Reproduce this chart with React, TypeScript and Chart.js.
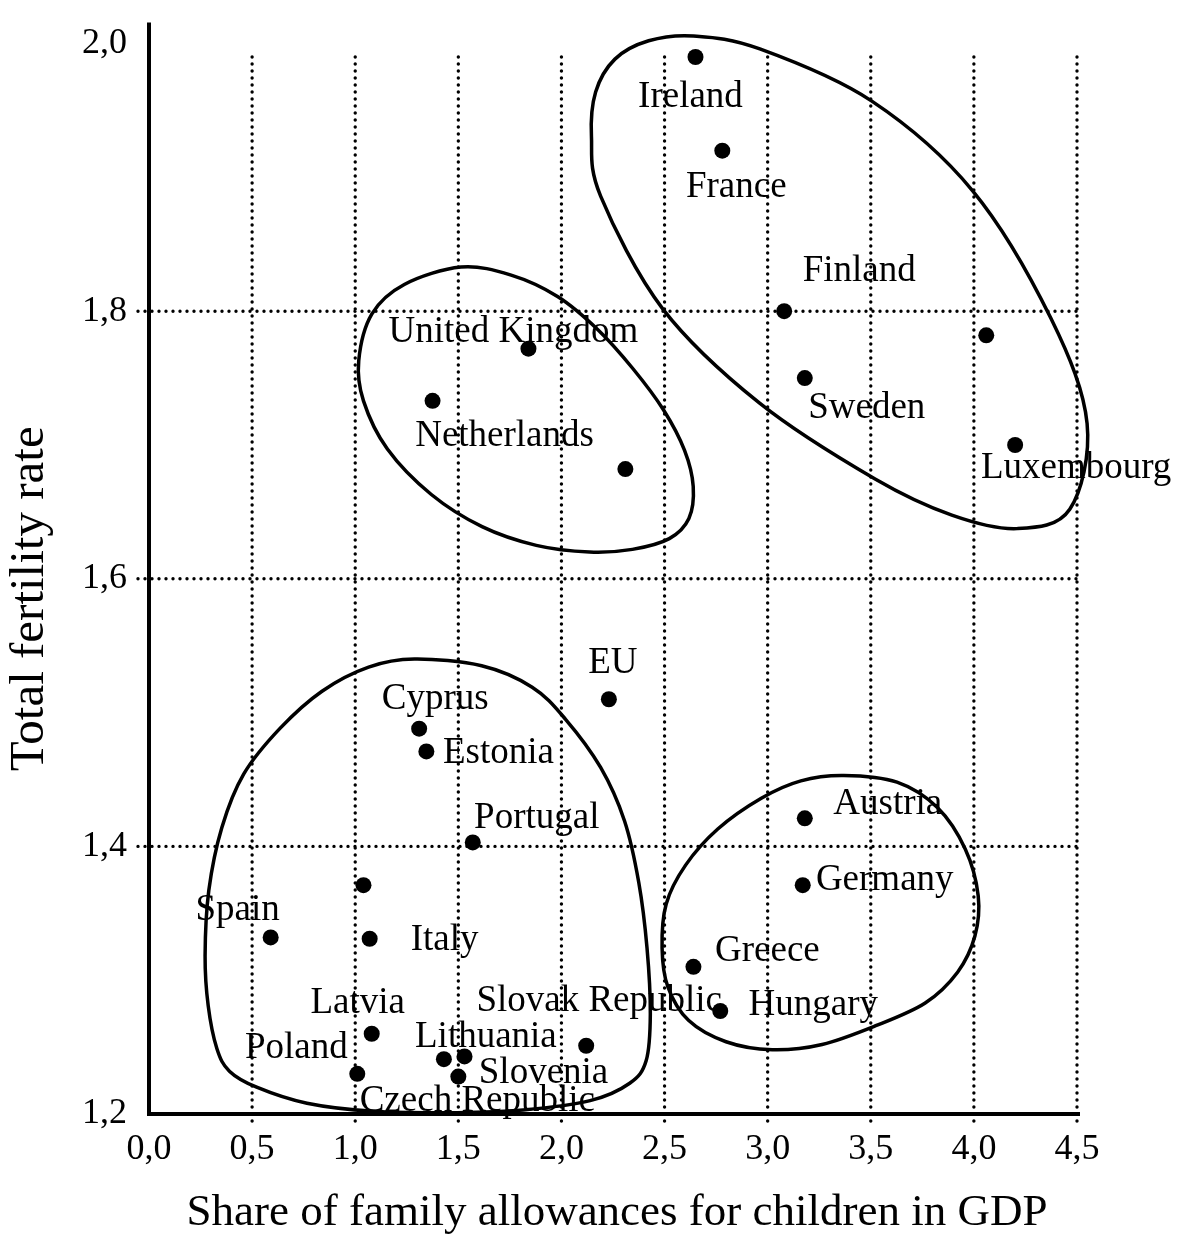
import { useEffect, useRef } from 'react';
import { Chart, registerables } from 'chart.js';

Chart.register(...registerables);

const FONT = '"Liberation Serif", "Times New Roman", Times, serif';

// ---- data ----
const countries = [
  'Ireland', 'France', 'Finland', 'Sweden', '', 'Luxembourg',
  'United Kingdom', 'Netherlands', '', 'EU', 'Cyprus', 'Estonia',
  'Portugal', '', 'Spain', 'Italy', 'Latvia', 'Poland', 'Lithuania',
  'Slovenia', 'Czech Republic', 'Slovak Republic', 'Austria', 'Germany',
  'Greece', 'Hungary',
];
const allowanceShare = [
  2.65, 2.78, 3.08, 3.18, 4.06, 4.2,
  1.84, 1.375, 2.31, 2.23, 1.31, 1.345,
  1.57, 1.04, 0.59, 1.07, 1.08, 1.01, 1.43,
  1.53, 1.5, 2.12, 3.18, 3.17,
  2.64, 2.77,
];
const fertilityRate = [
  1.99, 1.92, 1.8, 1.75, 1.782, 1.7,
  1.772, 1.733, 1.682, 1.51, 1.488, 1.471,
  1.403, 1.371, 1.332, 1.331, 1.26, 1.23, 1.241,
  1.243, 1.228, 1.251, 1.421, 1.371,
  1.31, 1.277,
];
// label placement relative to each point (px)
const labelDx = [-5, 14, 75, 62, 0, 61, -15, 72, 0, 4, 16, 72, 64, 0, -33, 75, -14, -61, 42, 79, 19, 13, 83, 82, 74, 93];
const labelDy = [40, 37, -40, 30, 0, 23, -16, 35, 0, -36, -29, 2, -24, 0, -27, 2, -30, -26, -22, 17, 25, -44, -14, -5, -16, -6];

const xGridValues = [0.5, 1, 1.5, 2, 2.5, 3, 3.5, 4, 4.5];
const yGridValues = [1.4, 1.6, 1.8];

const xAxisTitle = 'Share of family allowances for children in GDP';
const yAxisTitle = 'Total fertility rate';

// cluster outlines (data coordinates)
const groupNorthX = [2.6405, 2.962, 3.505, 3.994, 4.374, 4.549, 4.465, 4.21, 3.893, 3.521, 2.961, 2.492, 2.19, 2.1455, 2.1658, 2.2594, 2.4228];
const groupNorthY = [2.0057, 1.996, 1.957, 1.89, 1.7945, 1.716, 1.652, 1.6375, 1.6476, 1.6746, 1.7313, 1.8016, 1.886, 1.9305, 1.9638, 1.9884, 2.0021];

const groupWestX = [1.513, 1.756, 1.981, 2.178, 2.347, 2.496, 2.597, 2.639, 2.618, 2.523, 2.344, 2.136, 1.878, 1.615, 1.369, 1.156, 1.04, 1.017, 1.081, 1.238];
const groupWestY = [1.833, 1.827, 1.811, 1.786, 1.757, 1.726, 1.696, 1.669, 1.645, 1.63, 1.622, 1.62, 1.625, 1.639, 1.663, 1.697, 1.733, 1.763, 1.798, 1.82];

const groupEastX = [1.287, 1.613, 1.858, 2.02, 2.19, 2.306, 2.375, 2.415, 2.431, 2.411, 2.331, 2.139, 1.814, 1.495, 1.087, 0.766, 0.522, 0.39, 0.329, 0.287, 0.272, 0.29, 0.353, 0.459, 0.634, 0.839, 1.065];
const groupEastY = [1.54, 1.535, 1.519, 1.495, 1.459, 1.419, 1.373, 1.324, 1.275, 1.24, 1.223, 1.21, 1.203, 1.201, 1.202, 1.208, 1.22, 1.232, 1.249, 1.281, 1.318, 1.367, 1.414, 1.454, 1.488, 1.516, 1.534];

const groupCentralX = [3.369, 3.627, 3.823, 3.958, 4.021, 4.005, 3.921, 3.764, 3.524, 3.264, 3.022, 2.798, 2.616, 2.516, 2.488, 2.508, 2.602, 2.758, 2.969, 3.161];
const groupCentralY = [1.453, 1.448, 1.429, 1.398, 1.363, 1.333, 1.306, 1.283, 1.266, 1.252, 1.248, 1.254, 1.27, 1.295, 1.324, 1.357, 1.386, 1.413, 1.436, 1.449];

const outlines = [
  [groupNorthX, groupNorthY],
  [groupWestX, groupWestY],
  [groupEastX, groupEastY],
  [groupCentralX, groupCentralY],
];

const fmt = (v: number) => Number(v).toFixed(1).replace('.', ',');

function closedSpline(ctx: CanvasRenderingContext2D, pts: { x: number; y: number }[]) {
  const n = pts.length;
  ctx.beginPath();
  ctx.moveTo(pts[0].x, pts[0].y);
  for (let i = 0; i < n; i++) {
    const p0 = pts[(i - 1 + n) % n];
    const p1 = pts[i];
    const p2 = pts[(i + 1) % n];
    const p3 = pts[(i + 2) % n];
    const c1x = p1.x + (p2.x - p0.x) / 6;
    const c1y = p1.y + (p2.y - p0.y) / 6;
    const c2x = p2.x - (p3.x - p1.x) / 6;
    const c2y = p2.y - (p3.y - p1.y) / 6;
    ctx.bezierCurveTo(c1x, c1y, c2x, c2y, p2.x, p2.y);
  }
  ctx.closePath();
}

const figurePlugin = {
  id: 'figure',
  beforeDatasetsDraw(chart: any) {
    const { ctx, chartArea: a, scales } = chart;
    const x = scales.x;
    const y = scales.y;
    ctx.save();
    ctx.strokeStyle = '#000';
    ctx.lineWidth = 3.4;
    ctx.lineCap = 'round';
    ctx.setLineDash([0, 7]);
    ctx.beginPath();
    for (const v of xGridValues) {
      const px = x.getPixelForValue(v);
      ctx.moveTo(px, y.getPixelForValue(1.99));
      ctx.lineTo(px, a.bottom + 13);
    }
    for (const v of yGridValues) {
      const py = y.getPixelForValue(v);
      ctx.moveTo(a.left - 11, py);
      ctx.lineTo(x.getPixelForValue(4.5) + 3, py);
    }
    ctx.stroke();
    ctx.setLineDash([]);
    ctx.lineCap = 'butt';
    ctx.lineWidth = 4;
    ctx.beginPath();
    ctx.moveTo(a.left, a.top - 21);
    ctx.lineTo(a.left, a.bottom);
    ctx.lineTo(a.right + 3, a.bottom);
    ctx.stroke();
    ctx.restore();
  },
  afterDatasetsDraw(chart: any) {
    const { ctx, chartArea: a, scales } = chart;
    const x = scales.x;
    const y = scales.y;
    ctx.save();
    ctx.strokeStyle = '#000';
    ctx.lineWidth = 3.5;
    ctx.lineJoin = 'round';
    for (const [xs, ys] of outlines) {
      const pts = xs.map((v: number, i: number) => ({ x: x.getPixelForValue(v), y: y.getPixelForValue(ys[i]) }));
      closedSpline(ctx, pts);
      ctx.stroke();
    }
    ctx.fillStyle = '#000';
    ctx.font = `37px ${FONT}`;
    ctx.textAlign = 'center';
    ctx.textBaseline = 'middle';
    countries.forEach((name, i) => {
      if (!name) return;
      const px = x.getPixelForValue(allowanceShare[i]) + labelDx[i];
      const py = y.getPixelForValue(fertilityRate[i]) + labelDy[i];
      ctx.fillText(name, px, py);
    });
    ctx.font = `45px ${FONT}`;
    ctx.fillText(xAxisTitle, (a.left + a.right) / 2 + 4, a.bottom + 99);
    ctx.save();
    ctx.translate(a.left - 119, (a.top + a.bottom) / 2 + 20);
    ctx.rotate(-Math.PI / 2);
    ctx.font = `49px ${FONT}`;
    ctx.fillText(yAxisTitle, 0, 0);
    ctx.restore();
    ctx.restore();
  },
};

export default function App() {
  const ref = useRef<HTMLCanvasElement>(null);
  useEffect(() => {
    if (!ref.current) return;
    const chart = new Chart(ref.current, {
      type: 'scatter',
      data: {
        datasets: [
          {
            data: allowanceShare.map((v, i) => ({ x: v, y: fertilityRate[i] })),
            backgroundColor: '#000',
            borderColor: '#000',
            borderWidth: 0,
            pointRadius: 8,
            pointHoverRadius: 8,
          },
        ],
      },
      options: {
        animation: false,
        responsive: false,
        devicePixelRatio: 1,
        layout: { padding: { top: 30, right: 100, left: 0, bottom: 0 } },
        plugins: { legend: { display: false }, tooltip: { enabled: false } },
        scales: {
          x: {
            type: 'linear',
            min: 0,
            max: 4.5,
            grid: { display: false, drawTicks: false },
            border: { display: false },
            ticks: {
              stepSize: 0.5,
              color: '#000',
              padding: 14,
              font: { family: FONT, size: 36 },
              callback: (v: any) => fmt(v),
            },
            afterFit: (s: any) => { s.height = 130; },
          },
          y: {
            type: 'linear',
            min: 1.2,
            max: 2.0,
            grid: { display: false, drawTicks: false },
            border: { display: false },
            ticks: {
              stepSize: 0.2,
              color: '#000',
              padding: 22,
              font: { family: FONT, size: 36 },
              callback: (v: any) => fmt(v),
            },
            afterFit: (s: any) => { s.width = 149; },
          },
        },
      },
      plugins: [figurePlugin],
    } as any);
    return () => chart.destroy();
  }, []);
  return (
    <div style={{ position: 'absolute', left: 0, top: 0, width: 1177, height: 1244, background: '#fff' }}>
      <canvas ref={ref} width={1177} height={1244} style={{ display: 'block' }} />
    </div>
  );
}
